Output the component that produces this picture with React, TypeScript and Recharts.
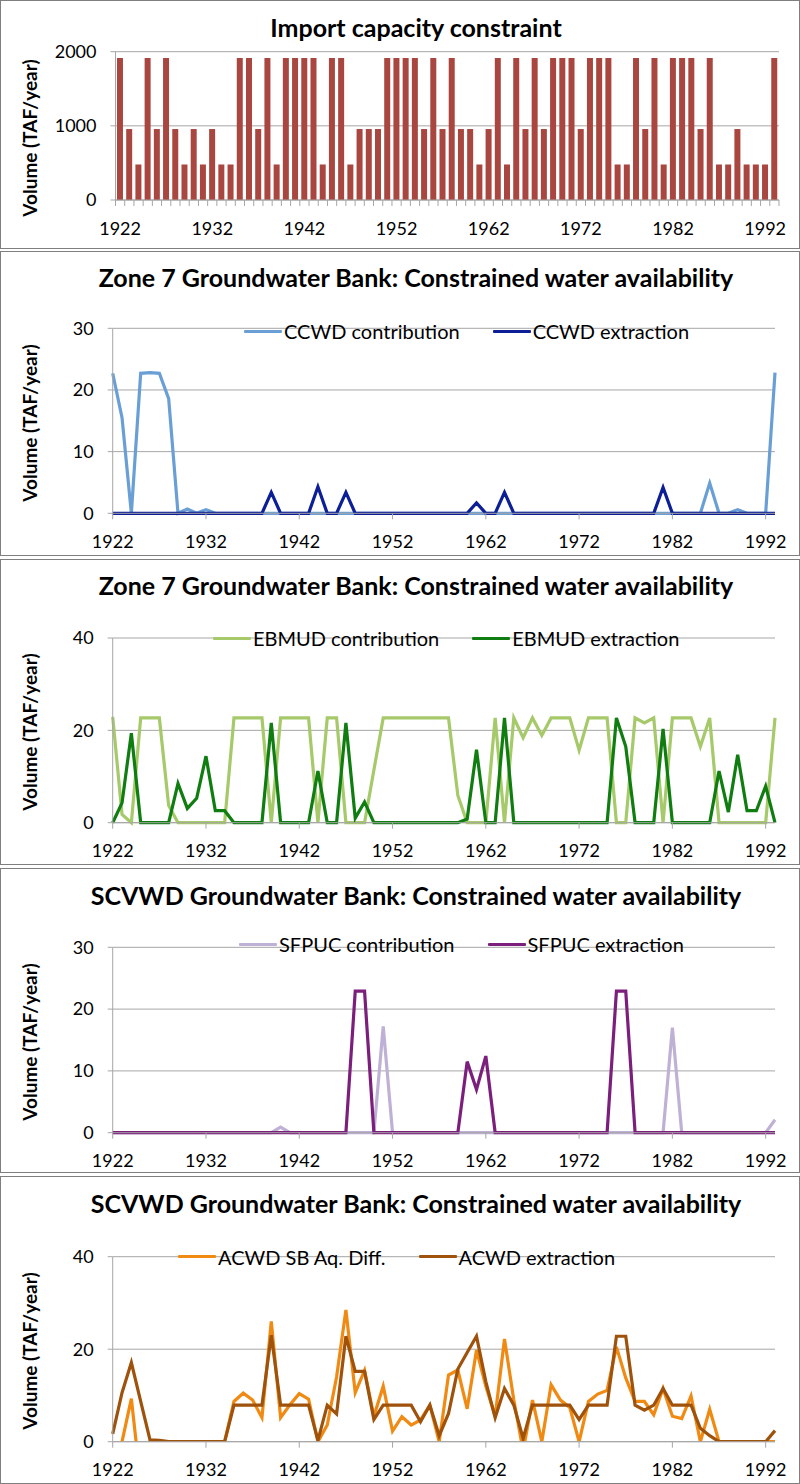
import React from 'react'
import { BarChart, Bar, LineChart, Line, XAxis, YAxis, CartesianGrid, Legend } from 'recharts'

// categories
const YEARS = [
  1922, 1923, 1924, 1925, 1926, 1927, 1928, 1929, 1930, 1931, 1932, 1933,
  1934, 1935, 1936, 1937, 1938, 1939, 1940, 1941, 1942, 1943, 1944, 1945,
  1946, 1947, 1948, 1949, 1950, 1951, 1952, 1953, 1954, 1955, 1956, 1957,
  1958, 1959, 1960, 1961, 1962, 1963, 1964, 1965, 1966, 1967, 1968, 1969,
  1970, 1971, 1972, 1973, 1974, 1975, 1976, 1977, 1978, 1979, 1980, 1981,
  1982, 1983, 1984, 1985, 1986, 1987, 1988, 1989, 1990, 1991, 1992, 1993,
]

// Import capacity constraint (TAF/year)
const IMPORT_CAP = [
  1915, 957, 479, 1915, 957, 1915, 957, 479, 957, 479, 957, 479,
  479, 1915, 1915, 957, 1915, 479, 1915, 1915, 1915, 1915, 479, 1915,
  1915, 479, 957, 957, 957, 1915, 1915, 1915, 1915, 957, 1915, 957,
  1915, 957, 957, 479, 957, 1915, 479, 1915, 957, 1915, 957, 1915,
  1915, 1915, 957, 1915, 1915, 1915, 479, 479, 1915, 957, 1915, 479,
  1915, 1915, 1915, 957, 1915, 479, 479, 957, 479, 479, 479, 1915,
]

const CCWD_CONTRIB = [
  22.7, 15.5, 0, 22.7, 22.8, 22.7, 18.6, 0, 0.7, 0, 0.6, 0,
  0, 0, 0, 0, 0, 0, 0, 0, 0, 0, 0, 0,
  0, 0, 0, 0, 0, 0, 0, 0, 0, 0, 0, 0,
  0, 0, 0, 0, 0, 0, 0, 0, 0, 0, 0, 0,
  0, 0, 0, 0, 0, 0, 0, 0, 0, 0, 0, 0,
  0, 0, 0, 0, 4.9, 0, 0, 0.6, 0, 0, 0, 22.8,
]
const CCWD_EXTRACT = [
  0, 0, 0, 0, 0, 0, 0, 0, 0, 0, 0, 0,
  0, 0, 0, 0, 0, 3.4, 0, 0, 0, 0, 4.3, 0,
  0, 3.4, 0, 0, 0, 0, 0, 0, 0, 0, 0, 0,
  0, 0, 0, 1.7, 0, 0, 3.4, 0, 0, 0, 0, 0,
  0, 0, 0, 0, 0, 0, 0, 0, 0, 0, 0, 4.2,
  0, 0, 0, 0, 0, 0, 0, 0, 0, 0, 0, 0,
]

const EBMUD_CONTRIB = [
  22.9, 1.8, 0, 22.7, 22.7, 22.7, 3.7, 0, 0, 0, 0, 0,
  0, 22.7, 22.7, 22.7, 22.7, 0, 22.7, 22.7, 22.7, 22.7, 0, 22.7,
  22.7, 0, 0, 0, 11.4, 22.7, 22.7, 22.7, 22.7, 22.7, 22.7, 22.7,
  22.7, 5.9, 0, 0, 0, 22.7, 0, 22.7, 18.4, 22.7, 18.9, 22.7,
  22.7, 22.7, 15.7, 22.7, 22.7, 22.7, 0, 0, 22.7, 21.6, 22.7, 0,
  22.7, 22.7, 22.7, 16.5, 22.7, 0, 0, 0, 0, 0, 0, 22.7,
]
const EBMUD_EXTRACT = [
  0, 4.3, 19.4, 0, 0, 0, 0, 8.5, 3.1, 5.3, 14.4, 2.6,
  2.6, 0, 0, 0, 0, 21.6, 0, 0, 0, 0, 11.2, 0,
  0, 21.6, 1.0, 4.5, 0, 0, 0, 0, 0, 0, 0, 0,
  0, 0, 0.8, 15.8, 0, 0, 22.7, 0, 0, 0, 0, 0,
  0, 0, 0, 0, 0, 0, 22.7, 16.5, 0, 0, 0, 20.3,
  0, 0, 0, 0, 0, 11.2, 2.3, 14.7, 2.6, 2.6, 7.9, 0,
]

const SFPUC_CONTRIB = [
  0, 0, 0, 0, 0, 0, 0, 0, 0, 0, 0, 0,
  0, 0, 0, 0, 0, 0, 0.9, 0, 0, 0, 0, 0,
  0, 0, 0, 0, 0, 17.2, 0, 0, 0, 0, 0, 0,
  0, 0, 0, 0, 0, 0, 0, 0, 0, 0, 0, 0,
  0, 0, 0, 0, 0, 0, 0, 0, 0, 0, 0, 0,
  17.0, 0, 0, 0, 0, 0, 0, 0, 0, 0, 0, 2.1,
]
const SFPUC_EXTRACT = [
  0, 0, 0, 0, 0, 0, 0, 0, 0, 0, 0, 0,
  0, 0, 0, 0, 0, 0, 0, 0, 0, 0, 0, 0,
  0, 0, 22.9, 22.9, 0, 0, 0, 0, 0, 0, 0, 0,
  0, 0, 11.5, 7.0, 12.4, 0, 0, 0, 0, 0, 0, 0,
  0, 0, 0, 0, 0, 0, 22.9, 22.9, 0, 0, 0, 0,
  0, 0, 0, 0, 0, 0, 0, 0, 0, 0, 0, 0,
]

const ACWD_DIFF = [
  -3, 0, 9.3, -9, 0, 0, 0, 0, 0, 0, 0, 0,
  0, 8.7, 10.5, 9.0, 5.2, 26.0, 5.2, 8.0, 10.4, 9.2, 0, 3.6,
  14, 28.5, 10.6, 15.4, 5.5, 12.0, 2.3, 5.4, 3.6, 4.7, 7.9, 0,
  14.4, 15.5, 7.1, 19.8, 12, 5.5, 22.2, 9, -2, 9.0, 0, 12.3,
  9.0, 7.4, 0, 8.7, 10.3, 11.1, 20.5, 13.8, 8.7, 8.7, 5.8, 11.5,
  5.5, 5.0, 9.9, 0, 7.0, 0, 0, 0, 0, 0, 0, 0,
]
const ACWD_EXTRACT = [
  1.7, 10.6, 17.1, 8.7, 0.4, 0.3, 0, 0, 0, 0, 0, 0,
  0, 7.9, 7.9, 7.9, 7.9, 23.0, 7.9, 7.9, 7.9, 7.9, 0.3, 7.9,
  6.0, 22.8, 15.2, 15.2, 4.8, 7.9, 7.9, 7.9, 7.9, 4.3, 7.9, 1.3,
  6.1, 15.7, 19.3, 22.8, 13, 5.2, 11.5, 7.9, 0.7, 7.9, 7.9, 7.9,
  7.9, 7.9, 4.8, 7.9, 7.9, 7.9, 22.8, 22.8, 7.9, 6.8, 7.9, 11.5,
  7.9, 7.9, 7.9, 2.9, 1.3, 0, 0, 0, 0, 0, 0, 2.4,
]

const W = 800
const FONT = 'Lato, "Open Sans", sans-serif'
const GRID = '#a6a6a6'
const Y_W = 60
const LINE_L = 112.7
const LINE_R = 775
const BAR_L = 115.5
const BAR_R = 779
const BAND = (BAR_R - BAR_L) / YEARS.length
const X_AXIS_H = 44
const TITLE_ZONE = 'Zone 7 Groundwater Bank: Constrained water availability'
const TITLE_SCVWD = 'SCVWD Groundwater Bank: Constrained water availability'

type Series = { key: string; name: string; color: string; values: number[] }

function Frame({ top, height }: { top: number; height: number }) {
  return (
    <div style={{ position: 'absolute', left: 0, top, width: W - 2, height: height - 2, border: '1px solid #7f7f7f' }} />
  )
}

function Title({ text, y }: { text: string; y: number }) {
  return (
    <div style={{ position: 'absolute', left: 0, top: y - 15, width: 832, textAlign: 'center', fontFamily: FONT, fontWeight: 700, fontSize: 25, lineHeight: '30px', color: '#000', whiteSpace: 'nowrap' }}>
      {text}
    </div>
  )
}

function YLabel({ cy }: { cy: number }) {
  return (
    <div style={{ position: 'absolute', left: 30 - 100, top: cy - 12, width: 200, height: 24, textAlign: 'center', transform: 'rotate(-90deg)', fontFamily: FONT, fontWeight: 700, fontSize: 19, lineHeight: '24px', color: '#000', whiteSpace: 'nowrap' }}>
      Volume (TAF/year)
    </div>
  )
}

function LegendRow({ items, gap }: { items: Series[]; gap: number }) {
  return (
    <div style={{ display: 'flex', alignItems: 'center', fontFamily: FONT, fontSize: 20, color: '#000', whiteSpace: 'nowrap' }}>
      {items.map((s, i) => (
        <div key={s.key} style={{ display: 'flex', alignItems: 'center', marginLeft: i ? gap : 0 }}>
          <div style={{ width: 38, height: 3, background: s.color, borderRadius: 1, marginRight: 2 }} />
          <span>{s.name}</span>
        </div>
      ))}
    </div>
  )
}

function BarYearTick(props: any) {
  const { x, y, payload, index } = props
  const axisY = y - 22
  const bx = x - BAND / 2
  return (
    <g>
      <line x1={bx} y1={axisY} x2={bx} y2={axisY + 6} stroke={GRID} />
      {index === YEARS.length - 1 && <line x1={x + BAND / 2} y1={axisY} x2={x + BAND / 2} y2={axisY + 6} stroke={GRID} />}
      {index % 10 === 0 && (
        <text x={x} y={y} dy="0.71em" textAnchor="middle" fontSize={18} fontFamily={FONT} fill="#000">{payload.value}</text>
      )}
    </g>
  )
}

function ImportPanel() {
  const top = 0
  const height = 249
  const plotTop = 51.7
  const plotBottom = 200
  const data = YEARS.map((year, i) => ({ year, cap: IMPORT_CAP[i] }))
  return (
    <>
      <Frame top={top} height={height} />
      <Title text="Import capacity constraint" y={27} />
      <YLabel cy={138} />
      <div style={{ position: 'absolute', left: 0, top }}>
        <BarChart width={W} height={height} data={data} barCategoryGap="16%"
          margin={{ top: plotTop - top, right: W - BAR_R, bottom: top + height - plotBottom - X_AXIS_H, left: BAR_L - Y_W }}>
          <CartesianGrid vertical={false} stroke={GRID} />
          <XAxis dataKey="year" interval={0} height={X_AXIS_H} tickSize={0} tickMargin={22} tickLine={false}
            axisLine={{ stroke: GRID }} tick={<BarYearTick />} />
          <YAxis width={Y_W} domain={[0, 2000]} ticks={[0, 1000, 2000]} tickSize={5} tickMargin={14}
            axisLine={{ stroke: GRID }} tickLine={{ stroke: GRID }} tick={{ fontSize: 18, fill: '#000', fontFamily: FONT }} />
          <Bar dataKey="cap" fill="#a8463f" isAnimationActive={false} />
        </BarChart>
      </div>
    </>
  )
}

type LineProps = {
  top: number; height: number; plotTop: number; plotBottom: number
  title: string; titleY: number; yMax: number; yTicks: number[]
  series: Series[]; legendLeft: number; legendY: number; legendGap: number; clip?: boolean
}

function LinePanel(p: LineProps) {
  const data = YEARS.map((year, i) => {
    const row: Record<string, number> = { year }
    p.series.forEach(s => { row[s.key] = s.values[i] })
    return row
  })
  return (
    <>
      <Frame top={p.top} height={p.height} />
      <Title text={p.title} y={p.titleY} />
      <YLabel cy={(p.plotTop + p.plotBottom) / 2 + 14} />
      <div style={{ position: 'absolute', left: 0, top: p.top }}>
        <LineChart width={W} height={p.height} data={data}
          margin={{ top: p.plotTop - p.top, right: W - LINE_R, bottom: p.top + p.height - p.plotBottom - X_AXIS_H, left: LINE_L - Y_W }}>
          <CartesianGrid vertical={false} stroke={GRID} />
          <XAxis dataKey="year" interval={9} height={X_AXIS_H} tickSize={6} tickMargin={16}
            axisLine={{ stroke: GRID }} tickLine={{ stroke: GRID }} tick={{ fontSize: 18, fill: '#000', fontFamily: FONT }} />
          <YAxis width={Y_W} domain={[0, p.yMax]} ticks={p.yTicks} allowDataOverflow={!!p.clip} tickSize={5} tickMargin={14}
            axisLine={{ stroke: GRID }} tickLine={{ stroke: GRID }} tick={{ fontSize: 18, fill: '#000', fontFamily: FONT }} />
          <Legend verticalAlign="top" content={() => <LegendRow items={p.series} gap={p.legendGap} />}
            wrapperStyle={{ left: p.legendLeft, top: p.legendY - p.top - 12, width: 'auto' }} />
          {p.series.map(s => (
            <Line key={s.key} type="linear" dataKey={s.key} name={s.name} stroke={s.color} strokeWidth={3.2}
              dot={false} activeDot={false} isAnimationActive={false} strokeLinejoin="miter" />
          ))}
        </LineChart>
      </div>
    </>
  )
}

export default function App() {
  return (
    <div style={{ position: 'absolute', left: 0, top: 0, width: W, height: 1484, background: '#fff', overflow: 'hidden' }}>
      <ImportPanel />
      <LinePanel top={251} height={305} plotTop={304.3} plotBottom={513.3} title={TITLE_ZONE} titleY={277}
        yMax={30} yTicks={[0, 10, 20, 30]} legendLeft={244} legendY={331} legendGap={33}
        series={[
          { key: 'c', name: 'CCWD contribution', color: '#6a9fd6', values: CCWD_CONTRIB },
          { key: 'e', name: 'CCWD extraction', color: '#0c1f96', values: CCWD_EXTRACT },
        ]} />
      <LinePanel top={559} height={306} plotTop={614} plotBottom={822.7} title={TITLE_ZONE} titleY={585}
        yMax={40} yTicks={[0, 20, 40]} legendLeft={213} legendY={638} legendGap={33}
        series={[
          { key: 'c', name: 'EBMUD contribution', color: '#a6c969', values: EBMUD_CONTRIB },
          { key: 'e', name: 'EBMUD extraction', color: '#0f7d10', values: EBMUD_EXTRACT },
        ]} />
      <LinePanel top={868} height={305} plotTop={923.3} plotBottom={1132.7} title={TITLE_SCVWD} titleY={895}
        yMax={30} yTicks={[0, 10, 20, 30]} legendLeft={239} legendY={944} legendGap={33}
        series={[
          { key: 'c', name: 'SFPUC contribution', color: '#bfb1d5', values: SFPUC_CONTRIB },
          { key: 'e', name: 'SFPUC extraction', color: '#7c1f7c', values: SFPUC_EXTRACT },
        ]} />
      <LinePanel top={1176} height={308} plotTop={1232.7} plotBottom={1441.7} title={TITLE_SCVWD} titleY={1203}
        yMax={40} yTicks={[0, 20, 40]} legendLeft={178} legendY={1256.7} legendGap={33} clip
        series={[
          { key: 'd', name: 'ACWD SB Aq. Diff.', color: '#f08a12', values: ACWD_DIFF },
          { key: 'e', name: 'ACWD extraction', color: '#9e520c', values: ACWD_EXTRACT },
        ]} />
    </div>
  )
}
